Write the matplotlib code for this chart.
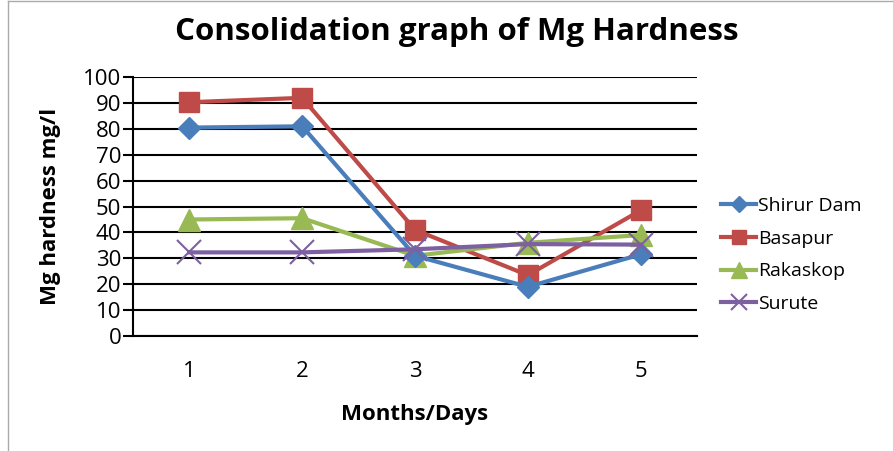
import matplotlib
matplotlib.use("Agg")
import matplotlib.pyplot as plt
from matplotlib.lines import Line2D

months = [1, 2, 3, 4, 5]
shirur = [80.5, 81, 31, 19, 31.5]
basapur = [90.3, 92, 41, 23.5, 48.5]
rakaskop = [45, 45.5, 31, 36, 39]
surute = [32.3, 32.3, 33.5, 35.5, 35.3]
yticks = list(range(0, 101, 10))

plt.rcParams['font.family'] = ['Open Sans', 'DejaVu Sans']

fig = plt.figure(figsize=(8.93, 4.51), dpi=100)
ax = fig.add_axes([133 / 893, 0.255, 564 / 893, 0.574])

ax.plot(months, shirur, color='#4a7ebb', lw=3, marker='D', ms=11.5, label='Shirur Dam', zorder=4)
ax.plot(months, basapur, color='#be4b48', lw=3, marker='s', ms=15, label='Basapur', zorder=3)
ax.plot(months, rakaskop, color='#98b954', lw=3, marker='^', ms=16, label='Rakaskop', zorder=3)
ax.plot(months, surute, color='#7d60a0', lw=3, marker='x', ms=17, mew=1.5, label='Surute', zorder=5)

ax.set_xlim(0.5, 5.5)
ax.set_ylim(0, 100)
ax.set_yticks(yticks)
ax.set_xticks(months)
ax.tick_params(axis='y', direction='out', length=7, width=1.5, labelsize=16, colors='black', pad=1.5)
ax.tick_params(axis='x', length=0, labelsize=16, pad=18)
ax.grid(axis='y', color='black', lw=1.5)
for s in ['top', 'right']:
    ax.spines[s].set_visible(False)
ax.spines['left'].set_linewidth(1.5)
ax.spines['bottom'].set_linewidth(1.5)

ax.set_xlabel('Months/Days', fontsize=16, fontweight='bold', labelpad=16)
ax.set_ylabel('Mg hardness mg/l', fontsize=16, fontweight='bold', labelpad=16)
fig.text(0.511, 0.93, 'Consolidation graph of Mg Hardness', fontsize=22.5, fontweight='bold',
         ha='center', va='center')

leg = fig.legend(*ax.get_legend_handles_labels(), loc='center left',
                 bbox_to_anchor=(721 / 893, 1 - 255 / 451), frameon=False, fontsize=14,
                 handlelength=1.8, labelspacing=0.76, handletextpad=0.1, markerscale=0.68,
                 borderaxespad=0, borderpad=0)

fig.add_artist(Line2D([0.009, 0.009], [0.0, 0.998], transform=fig.transFigure, color='#aaaaaa', lw=1))
fig.add_artist(Line2D([0.009, 1.0], [0.998, 0.998], transform=fig.transFigure, color='#aaaaaa', lw=1))

fig.savefig('out.png', dpi=100)
